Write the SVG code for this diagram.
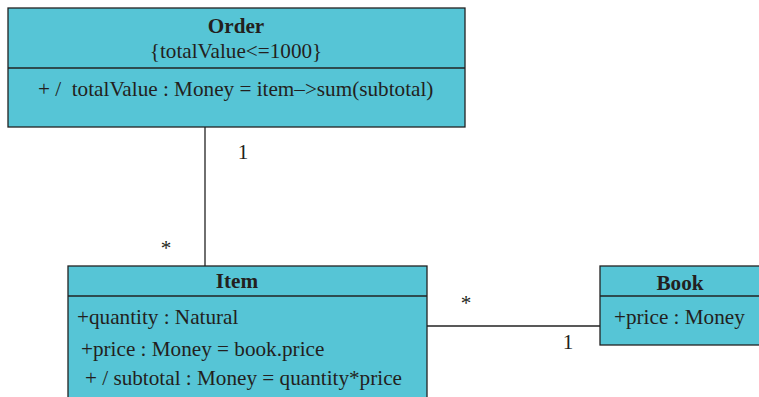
<svg xmlns="http://www.w3.org/2000/svg" width="759" height="397" viewBox="0 0 759 397">
<style>
.box{fill:#56C5D6;stroke:#222;stroke-width:1.3}
.ln{stroke:#222;stroke-width:1.3;fill:none}
text{font-family:"Liberation Serif","Times New Roman",serif;font-size:21.2px;fill:#231f20;white-space:pre}
.t{font-weight:bold;text-anchor:middle}
.c{text-anchor:middle}
</style>
<rect width="759" height="397" fill="#fff"/>
<g id="connectors">
<line class="ln" x1="205" y1="127" x2="205" y2="266"/>
<line class="ln" x1="427" y1="326" x2="600" y2="326"/>
<text x="243" y="159" class="c">1</text>
<text x="166" y="255" class="c">*</text>
<text x="466" y="310" class="c">*</text>
<text x="568" y="349" class="c">1</text>
</g>
<g id="Order">
<rect class="box" x="8" y="8" width="457" height="119"/>
<line class="ln" x1="8" y1="68" x2="465" y2="68"/>
<text x="236" y="33" class="t">Order</text>
<text x="236" y="58" class="c">{totalValue&lt;=1000}</text>
<text x="38" y="96" xml:space="preserve">+ /  totalValue : Money = item–&gt;sum(subtotal)</text>
</g>
<g id="Item">
<rect class="box" x="68" y="266" width="359" height="140"/>
<line class="ln" x1="68" y1="296" x2="427" y2="296"/>
<text x="237" y="288" class="t">Item</text>
<text x="77" y="324">+quantity : Natural</text>
<text x="81" y="356">+price : Money = book.price</text>
<text x="85" y="385">+ / subtotal : Money = quantity*price</text>
</g>
<g id="Book">
<rect class="box" x="600" y="266" width="170" height="79"/>
<line class="ln" x1="600" y1="296" x2="770" y2="296"/>
<text x="680" y="290" class="t">Book</text>
<text x="614" y="324">+price : Money</text>
</g>
</svg>
